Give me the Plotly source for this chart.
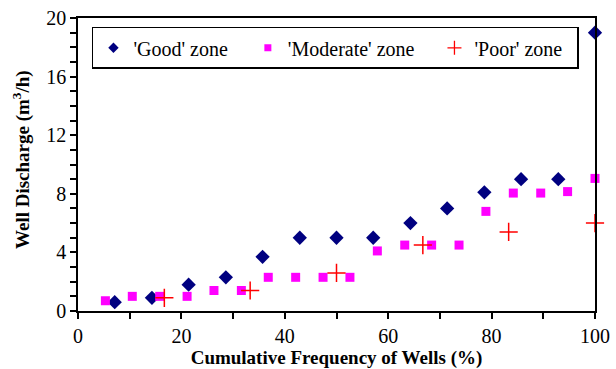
import plotly.graph_objects as go

good_x = [7.1, 14.3, 21.4, 28.6, 35.7, 42.9, 50.0, 57.1, 64.3, 71.4, 78.6, 85.7, 92.9, 100.0]
good_y = [0.6, 0.9, 1.8, 2.3, 3.7, 5.0, 5.0, 5.0, 6.0, 7.0, 8.1, 9.0, 9.0, 19.0]

mod_x = [5.3, 10.5, 15.8, 21.1, 26.3, 31.6, 36.8, 42.1, 47.4, 52.6, 57.9, 63.2, 68.4,
         73.7, 78.9, 84.2, 89.5, 94.7, 100.0]
mod_y = [0.7, 1.0, 1.0, 1.0, 1.4, 1.4, 2.3, 2.3, 2.3, 2.3, 4.1, 4.5, 4.5,
         4.5, 6.8, 8.05, 8.05, 8.15, 9.05]

poor_x = [16.7, 33.3, 50.0, 66.7, 83.3, 100.0]
poor_y = [0.9, 1.4, 2.6, 4.5, 5.4, 6.0]

series_names = ["'Good' zone", "'Moderate' zone", "'Poor' zone"]

FONT = "Times New Roman, Liberation Serif, DejaVu Serif, serif"
NB = "\u00a0"

fig = go.Figure()
fig.add_trace(go.Scatter(x=good_x, y=good_y, mode="markers", name=series_names[0], showlegend=False,
                         marker=dict(symbol="diamond", size=11, color="#000080"),
                         cliponaxis=False))
fig.add_trace(go.Scatter(x=mod_x, y=mod_y, mode="markers", name=series_names[1], showlegend=False,
                         marker=dict(symbol="square", size=9, color="#FF00FF"),
                         cliponaxis=False))
fig.add_trace(go.Scatter(x=poor_x, y=poor_y, mode="markers", name=series_names[2], showlegend=False,
                         marker=dict(symbol="cross-thin", size=13, color="#FF0000",
                                     line=dict(color="#FF0000", width=1.5)),
                         cliponaxis=False))
fig.add_trace(go.Scatter(x=[None], y=[None], mode="markers", name=series_names[0] + NB * 3,
                         marker=dict(symbol="diamond", size=8, color="#000080")))
fig.add_trace(go.Scatter(x=[None], y=[None], mode="markers", name=series_names[1] + NB * 3,
                         marker=dict(symbol="square", size=7, color="#FF00FF")))
fig.add_trace(go.Scatter(x=[None], y=[None], mode="markers", name=series_names[2] + NB * 2,
                         marker=dict(symbol="cross-thin", size=10, color="#FF0000",
                                     line=dict(color="#FF0000", width=1.3))))

fig.update_layout(
    width=616, height=369,
    margin=dict(l=78, r=21, t=18, b=58),
    paper_bgcolor="white", plot_bgcolor="white",
    font=dict(family=FONT, size=20, color="black"),
    showlegend=True,
    legend=dict(orientation="h", x=0.027, y=0.97, xanchor="left", yanchor="top",
                bgcolor="white", bordercolor="black", borderwidth=1.5,
                font=dict(family=FONT, size=20), tracegroupgap=0,
                itemwidth=30),
    xaxis=dict(range=[0, 100], tickmode="linear", tick0=0, dtick=20,
               ticks="outside", ticklen=6, tickwidth=1.5, tickcolor="black",
               minor=dict(dtick=10, ticks="outside", ticklen=6, tickwidth=1.5, tickcolor="black"),
               showline=True, linecolor="black", linewidth=1.5, mirror=True,
               showgrid=False, zeroline=False, automargin=False,
               title=dict(text="<b>Cumulative Frequency of Wells (%)</b>", standoff=4,
                          font=dict(family=FONT, size=19)),
               tickfont=dict(family=FONT, size=20)),
    yaxis=dict(range=[0, 20], tickmode="linear", tick0=0, dtick=4,
               ticks="outside", ticklen=6, tickwidth=1.5, tickcolor="black",
               minor=dict(dtick=1, ticks="outside", ticklen=6, tickwidth=1.5, tickcolor="black"),
               showline=True, linecolor="black", linewidth=1.5, mirror=True,
               showgrid=False, zeroline=False, automargin=False,
               tickfont=dict(family=FONT, size=20)),
    annotations=[dict(text="<b>Well Discharge (m<sup>3</sup>/h)</b>", textangle=-90,
                      xref="paper", yref="paper", x=(21 - 78) / 517, y=(311 - 160) / 293,
                      xanchor="center", yanchor="middle", showarrow=False,
                      font=dict(family=FONT, size=19))],
)

fig.write_html("out.html")
